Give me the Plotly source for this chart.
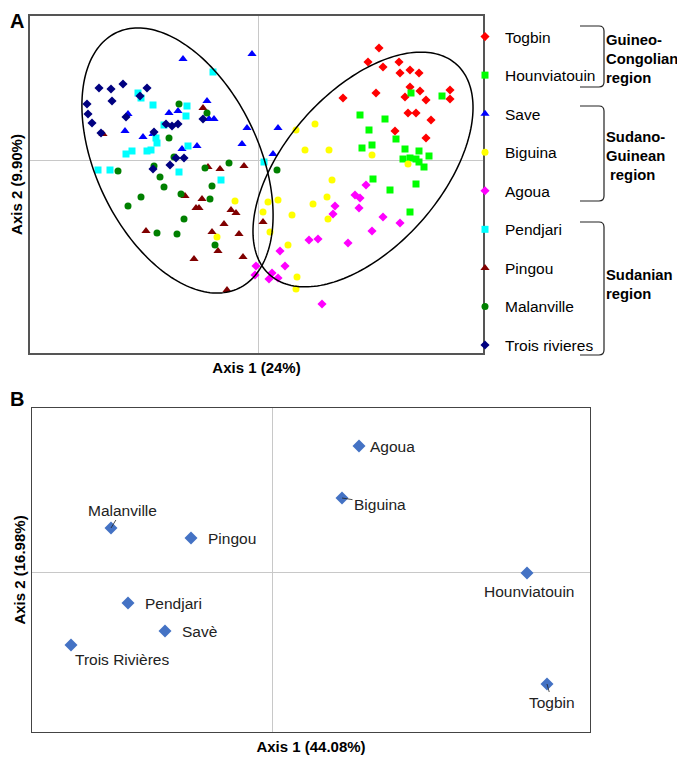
import numpy as np
import plotly.graph_objects as go

OFF = 8  # page body margin
W, H = 685 - OFF, 757 - OFF
FONT = "Liberation Sans, Arial, sans-serif"

# ---------------- Panel A data (PCA scores, arbitrary units) ----------------
populations = ["Togbin", "Hounviatouin", "Save", "Biguina", "Agoua",
               "Pendjari", "Pingou", "Malanville", "Trois rivieres"]
colors = ["#FF0000", "#00FF00", "#0000FF", "#FFFF00", "#FF00FF",
          "#00FFFF", "#800000", "#008000", "#000080"]
symbols = ["diamond", "square", "triangle-up", "circle", "diamond",
           "square", "triangle-up", "circle", "diamond"]

togbin_x = [12.1, 11.0, 12.5, 14.1, 14.2, 15.2, 16.1, 15.2, 16.2, 14.7, 16.8, 19.2, 19.2, 11.8, 8.5, 15.0, 15.8, 17.3, 13.7, 16.8]
togbin_y = [11.2, 9.8, 9.3, 9.8, 8.7, 9.0, 8.7, 7.3, 6.9, 6.3, 6.0, 7.0, 6.1, 6.7, 6.2, 4.7, 4.7, 4.0, 2.9, 2.2]

hounv_x = [15.3, 18.4, 10.2, 12.7, 11.1, 13.8, 10.4, 11.4, 14.7, 16.1, 17.1, 14.5, 15.2, 15.8, 16.1, 16.6, 11.5, 15.8, 13.2, 15.2]
hounv_y = [6.7, 6.4, 4.5, 4.1, 3.0, 2.1, 1.2, 1.5, 1.1, 0.9, 0.4, 0.1, 0.2, 0.1, -0.2, -0.7, -1.9, -2.4, -3.0, -5.2]

save_x = [-7.5, -0.6, -5.1, -8.0, -8.9, -13.0, -4.9, -1.1, -13.3, -11.5, -10.5, -7.6, -6.1, -1.6, 2.0, 1.5, -4.4]
save_y = [10.1, 10.6, 5.9, 4.9, 4.7, 4.6, 4.1, 3.2, 2.9, 2.3, 2.6, 1.1, 1.4, 1.6, 3.2, 0.6, 4.1]

biguina_x = [-2.3, -4.1, 3.8, 5.7, 4.7, 7.1, 11.4, 15.0, 7.4, 6.9, 5.5, 2.0, 1.0, 0.5, 3.4, 7.0, 1.2, 3.0, 3.9, 3.8]
biguina_y = [-4.1, -7.7, 3.0, 3.6, 1.0, 1.0, 0.5, -0.4, -2.0, -3.7, -4.4, -4.0, -4.2, -5.2, -5.5, -5.9, -7.2, -8.5, -11.7, -12.9]

agoua_x = [10.8, 9.7, 10.2, 10.1, 7.7, 7.5, 12.5, 14.2, 11.4, 5.1, 6.0, 9.0, 2.2, 2.7, -0.2, -0.3, 1.4, 1.1, 2.0, 6.4]
agoua_y = [-2.5, -3.5, -3.8, -4.8, -4.6, -5.4, -5.7, -6.3, -7.1, -8.0, -7.9, -8.3, -9.1, -10.6, -10.6, -11.5, -11.3, -11.9, -11.8, -14.4]

pendjari_x = [-4.5, -12.0, -11.7, -10.5, -7.1, -7.2, -9.4, -10.2, -10.1, -7.0, -10.7, -11.1, -12.6, -13.2, -16.0, -14.8, -7.9, -3.7, 0.6]
pendjari_y = [8.8, 6.7, 6.2, 5.5, 5.4, 4.4, 3.5, 2.2, 1.7, 1.4, 1.0, 0.9, 0.9, 0.6, -1.0, -1.0, -1.2, -2.0, -0.2]

pingou_x = [-5.5, -15.5, -5.0, -3.8, -1.4, -7.3, -5.6, -6.2, -5.9, -2.7, -2.2, -3.4, -11.2, -4.6, -1.9, -4.0, -6.4, -1.5, -3.1, 0.5]
pingou_y = [5.2, 2.6, -0.7, -0.9, -0.6, -3.6, -3.9, -4.8, -4.8, -5.0, -5.3, -6.4, -7.1, -7.2, -7.4, -9.1, -9.9, -9.7, -13.0, -6.2]

malan_x = [-7.9, -5.1, -8.9, -8.4, -10.4, -14.0, -5.3, -2.9, -9.8, -9.4, -11.7, -13.0, -7.7, -4.6, -4.8, -7.4, -10.1, -8.1, -4.3, 1.9]
malan_y = [5.6, 4.7, 2.2, 0.3, -0.6, -1.1, -0.8, -0.3, -1.7, -2.7, -3.7, -4.6, -3.4, -2.6, -3.9, -5.9, -7.3, -7.4, -8.5, -1.0]

trois_x = [-15.9, -14.7, -13.5, -11.1, -11.8, -14.6, -17.1, -17.0, -16.6, -15.7, -13.2, -9.2, -8.6, -8.0, -5.5, -10.4, -8.2, -7.4, -10.5, -8.8]
trois_y = [7.2, 7.1, 7.6, 7.2, 6.4, 5.9, 5.6, 4.6, 3.7, 2.7, 4.3, 3.6, 3.4, 3.6, 4.1, 2.8, 0.2, 0.2, -0.9, -0.5]

xs = [togbin_x, hounv_x, save_x, biguina_x, agoua_x, pendjari_x, pingou_x, malan_x, trois_x]
ys = [togbin_y, hounv_y, save_y, biguina_y, agoua_y, pendjari_y, pingou_y, malan_y, trois_y]

# confidence ellipses: center x, center y, semi-major, semi-minor, angle (deg)
ell_cx = [-8.05, 10.5]
ell_cy = [-0.05, -0.95]
ell_a = [14.17, 14.07]
ell_b = [8.14, 7.80]
ell_ang = [-64.4, 48.5]

regions = ["Guineo-<br>Congolian<br>region", "Sudano-<br>Guinean<br> region", "Sudanian<br>region"]

# ---------------- Panel B data ----------------
b_names = ["Malanville", "Pingou", "Pendjari", "Savè", "Trois Rivières",
           "Agoua", "Biguina", "Hounviatouin", "Togbin"]
b_x = [-16.1, -8.1, -14.4, -10.7, -20.1, 8.7, 7.0, 25.5, 27.5]
b_y = [4.4, 3.4, -3.1, -5.9, -7.3, 12.6, 7.4, -0.1, -11.2]

fig = go.Figure()

sizes = {"diamond": 7, "square": 7, "triangle-up": 8, "circle": 7}
for i, name in enumerate(populations):
    fig.add_trace(go.Scatter(
        x=xs[i], y=ys[i], mode="markers", name=name,
        legendgroup=name,
        marker=dict(symbol=symbols[i], color=colors[i], size=sizes[symbols[i]],
                    line=dict(width=0)),
        xaxis="x", yaxis="y", hoverinfo="name"))

fig.add_trace(go.Scatter(
    x=b_x, y=b_y, mode="markers", showlegend=False,
    marker=dict(symbol="diamond", color="#4472C4", size=10, line=dict(width=0)),
    xaxis="x2", yaxis="y2", text=b_names, hoverinfo="text"))

# ellipses
shapes = []
t = np.linspace(0, 2 * np.pi, 200)
for cx, cy, a, b, ang in zip(ell_cx, ell_cy, ell_a, ell_b, ell_ang):
    th = np.deg2rad(ang)
    ex = cx + a * np.cos(t) * np.cos(th) - b * np.sin(t) * np.sin(th)
    ey = cy + a * np.cos(t) * np.sin(th) + b * np.sin(t) * np.cos(th)
    path = "M " + " L ".join(f"{u:.3f},{v:.3f}" for u, v in zip(ex, ey)) + " Z"
    shapes.append(dict(type="path", xref="x", yref="y", path=path,
                       line=dict(color="black", width=1.5)))

def px(xp):
    return (xp - OFF) / W

def py(yp):
    return 1 - (yp - OFF) / H

# region brackets
for (y0, y1) in [(26, 87), (106, 201), (222, 355)]:
    x0, x1 = 580, 604
    path = (f"M {px(x0)},{py(y0)} L {px(x1-5)},{py(y0)} Q {px(x1)},{py(y0)} {px(x1)},{py(y0+5)} "
            f"L {px(x1)},{py(y1-5)} Q {px(x1)},{py(y1)} {px(x1-5)},{py(y1)} L {px(x0)},{py(y1)}")
    shapes.append(dict(type="path", xref="paper", yref="paper", path=path,
                       line=dict(color="#222", width=1.2)))

annotations = []
for txt, yc in zip(regions, [59, 156, 284]):
    annotations.append(dict(text=f"<b>{txt}</b>", x=px(604), y=py(yc), xref="paper", yref="paper",
                            xanchor="left", yanchor="middle", align="left", showarrow=False,
                            font=dict(family=FONT, size=14.8, color="black")))
annotations.append(dict(text="<b>A</b>", x=px(8), y=py(8), xref="paper", yref="paper",
                        xanchor="left", yanchor="top", showarrow=False,
                        font=dict(family=FONT, size=20, color="black")))
annotations.append(dict(text="<b>B</b>", x=px(8), y=py(386), xref="paper", yref="paper",
                        xanchor="left", yanchor="top", showarrow=False,
                        font=dict(family=FONT, size=20, color="black")))

# panel B labels
lab_cfg = {
    "Malanville": dict(showarrow=True, ax=11, ay=-18),
    "Pingou": dict(showarrow=False, xshift=15, xanchor="left"),
    "Pendjari": dict(showarrow=False, xshift=15, xanchor="left"),
    "Savè": dict(showarrow=False, xshift=15, xanchor="left"),
    "Trois Rivières": dict(showarrow=False, xshift=2, yshift=-14, xanchor="left"),
    "Agoua": dict(showarrow=False, xshift=9, xanchor="left"),
    "Biguina": dict(showarrow=True, ax=38, ay=6),
    "Hounviatouin": dict(showarrow=False, xshift=2, yshift=-18, xanchor="center"),
    "Togbin": dict(showarrow=True, ax=5, ay=18),
}
for n, x, y in zip(b_names, b_x, b_y):
    cfg = lab_cfg[n]
    ann = dict(text=n, x=x, y=y, xref="x2", yref="y2",
               font=dict(family=FONT, size=15.5, color="#222"))
    if cfg.get("showarrow"):
        ann.update(showarrow=True, ax=cfg["ax"], ay=cfg["ay"], arrowhead=0,
                   arrowwidth=0.8, arrowcolor="#222", standoff=0)
    else:
        ann.update(showarrow=False, xanchor=cfg.get("xanchor", "center"),
                   xshift=cfg.get("xshift", 0), yshift=cfg.get("yshift", 0))
    annotations.append(ann)

axis_common = dict(showgrid=False, zeroline=True, zerolinecolor="#c8c8c8", zerolinewidth=1,
                   showticklabels=False, ticks="", showline=True, mirror=True)

fig.update_layout(
    width=W, height=H,
    margin=dict(l=0, r=0, t=0, b=0),
    paper_bgcolor="white", plot_bgcolor="white",
    font=dict(family=FONT, color="black"),
    showlegend=True,
    legend=dict(x=px(465), y=py(20), xanchor="left", yanchor="top",
                font=dict(family=FONT, size=15.5, color="black"),
                tracegroupgap=15.4, bgcolor="rgba(0,0,0,0)", itemsizing="trace"),
    xaxis=dict(domain=[px(30), px(483)], range=[-22.8, 22.5], anchor="y",
               linecolor="#555", linewidth=1.5,
               title=dict(text="<b>Axis 1 (24%)</b>", standoff=9,
                          font=dict(family=FONT, size=15)), **axis_common),
    yaxis=dict(domain=[py(353), py(16)], range=[-19.3, 14.4], anchor="x",
               linecolor="#555", linewidth=1.5,
               title=dict(text="<b>Axis 2 (9.90%)</b>", standoff=3,
                          font=dict(family=FONT, size=15)), **axis_common),
    xaxis2=dict(domain=[px(32), px(590)], range=[-24, 31.8], anchor="y2",
                linecolor="#444", linewidth=1.2,
                title=dict(text="<b>Axis 1 (44.08%)</b>", standoff=9,
                           font=dict(family=FONT, size=15)), **axis_common),
    yaxis2=dict(domain=[py(732), py(408)], range=[-16, 16.4], anchor="x2",
                linecolor="#444", linewidth=1.2,
                title=dict(text="<b>Axis 2 (16.98%)</b>", standoff=1,
                           font=dict(family=FONT, size=15)), **axis_common),
    shapes=shapes,
    annotations=annotations,
)

fig.write_html("out.html")
